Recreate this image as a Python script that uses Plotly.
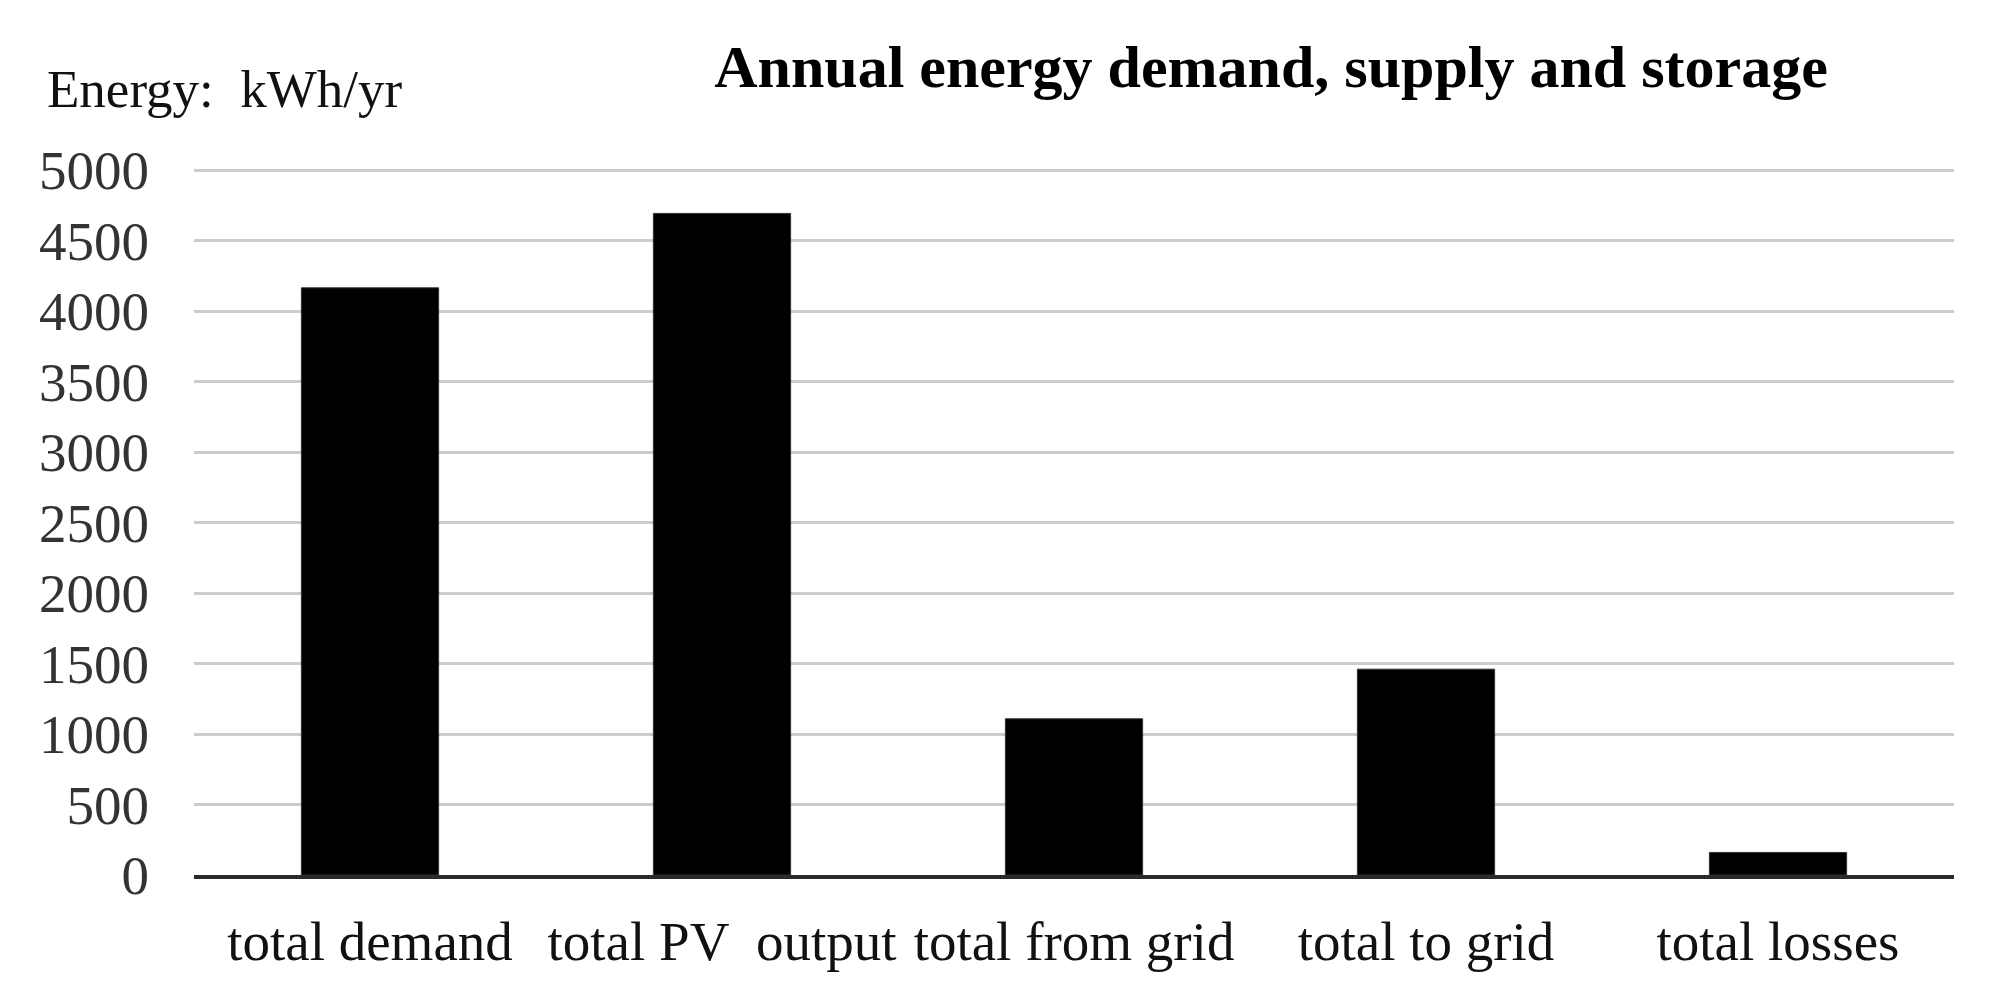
import plotly.graph_objects as go

categories = ["total demand", "total PV  output", "total from grid", "total to grid", "total losses"]
values = [4165, 4693, 1108, 1460, 160]
y_ticks = [0, 500, 1000, 1500, 2000, 2500, 3000, 3500, 4000, 4500, 5000]

# page body adds an 8px margin, so the figure is sized to fit the window
W, H = 1995, 1000
L, R, T, B = 186, 49, 161, 133
pw, ph = W - L - R, H - T - B

fig = go.Figure(go.Bar(
    x=categories, y=values,
    marker=dict(color="black", line=dict(color="#333333", width=1)),
    width=0.39,
))

font_family = "Liberation Serif, Times New Roman, serif"
fig.update_layout(
    width=W, height=H,
    margin=dict(l=L, r=R, t=T, b=B, pad=0),
    paper_bgcolor="white", plot_bgcolor="white",
    showlegend=False,
    font=dict(family=font_family, color="black", size=50),
    title=dict(
        text="<b>Annual energy demand, supply and storage</b>",
        x=1263 / W, xanchor="center", xref="container",
        y=1 - 58 / H, yanchor="middle", yref="container",
        font=dict(family=font_family, size=60, color="black"),
    ),
    bargap=0.61,
)
fig.update_xaxes(
    showgrid=False, showline=True, linecolor="#2b2b2b", linewidth=4,
    ticks="", tickfont=dict(size=55, family=font_family, color="#111111"),
    ticklabelstandoff=15,
)
fig.update_yaxes(
    range=[0, 5008], tickvals=y_ticks, ticktext=[str(v) for v in y_ticks],
    showgrid=True, gridcolor="#cccccc", gridwidth=3,
    zeroline=False, showline=False, ticks="",
    tickfont=dict(size=55, family=font_family, color="#333333"),
    ticklabelstandoff=44,
)
fig.add_annotation(
    text="Energy:  kWh/yr", xref="paper", yref="paper",
    x=(37 - L) / pw, xanchor="left", y=(867 - 81) / ph, yanchor="middle",
    showarrow=False, font=dict(size=53, family=font_family, color="#111111"),
)
fig.write_html("out.html")
